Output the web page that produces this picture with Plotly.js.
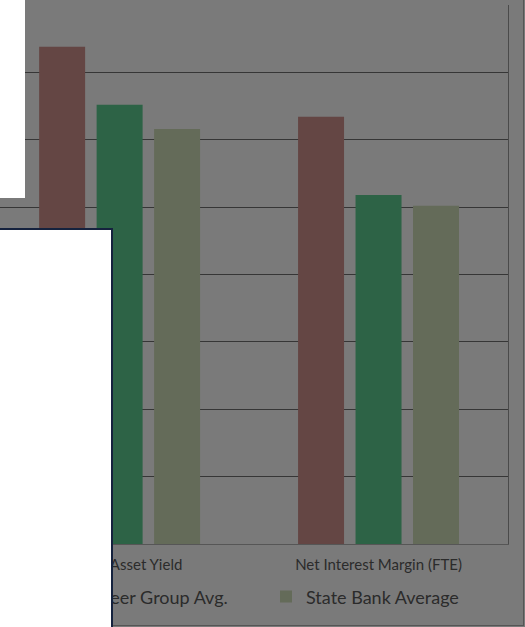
<!DOCTYPE html>
<html>
<head>
<meta charset="utf-8">
<script src="https://cdn.plot.ly/plotly-3.0.1.min.js"></script>
<style>
  html, body { margin: 0; padding: 0; background: #7a7a7a; overflow: hidden; }
  #chart {
    position: absolute; left: 0; top: 0;
    width: 523px; height: 625px;
    border-right: 1px solid #555555; border-bottom: 1px solid #555555;
  }
  .panel { position: absolute; background: #ffffff; }
  #panel-top { left: 0; top: 0; width: 25px; height: 198px; }
  #panel-bottom {
    left: 0; top: 228px; width: 111px; height: 420px;
    border-top: 2px solid #15223e; border-right: 2px solid #15223e;
  }
</style>
</head>
<body>
<div id="chart"></div>
<div class="panel" id="panel-top"></div>
<div class="panel" id="panel-bottom"></div>
<script>
// Yield and margin comparison, in percent
var categories = ["Earning Asset Yield", "Net Interest Margin (FTE)"];
var seriesNames = ["Bank", "Peer Group Avg.", "State Bank Average"];
var bankValues  = [3.69, 3.17];
var peerValues  = [3.26, 2.59];
var stateValues = [3.08, 2.51];

var colors = ["#644644", "#2d6346", "#646b59"];
var legendWidths = [15, 161, 160];
var allValues = [bankValues, peerValues, stateValues];

var traces = allValues.map(function (vals, i) {
  return {
    type: "bar",
    name: seriesNames[i],
    x: categories,
    y: vals,
    marker: { color: colors[i], line: { width: 0 } },
    legendwidth: legendWidths[i],
    hoverinfo: "skip"
  };
});

var textColor = "#2b2b2b";

var layout = {
  width: 523,
  height: 625,
  margin: { l: 0, r: 15, t: 5, b: 81, pad: 0 },
  paper_bgcolor: "#7a7a7a",
  plot_bgcolor: "#7a7a7a",
  barmode: "group",
  bargap: 0.334,
  bargroupgap: 0.2,
  font: { family: "Lato, 'Open Sans', sans-serif", color: textColor },
  xaxis: {
    type: "category",
    range: [-0.462, 1.5],
    showgrid: false,
    zeroline: false,
    showline: true,
    linecolor: "#565656",
    linewidth: 1,
    ticks: "",
    ticklabelstandoff: 7,
    tickfont: { family: "Lato, sans-serif", size: 15, color: textColor },
    automargin: false,
    fixedrange: true
  },
  yaxis: {
    range: [0, 4],
    dtick: 0.5,
    showgrid: true,
    gridcolor: "#363636",
    gridwidth: 1,
    zeroline: false,
    showline: true,
    mirror: true,
    linecolor: "#4a4a4a",
    linewidth: 1,
    showticklabels: false,
    ticks: "",
    automargin: false,
    fixedrange: true
  },
  showlegend: true,
  legend: {
    orientation: "h",
    x: 0,
    xanchor: "left",
    y: -0.098,
    yanchor: "middle",
    bgcolor: "rgba(0,0,0,0)",
    borderwidth: 0,
    traceorder: "normal",
    font: { family: "Lato, sans-serif", size: 18, color: textColor }
  }
};

Plotly.newPlot("chart", traces, layout, { staticPlot: true, displayModeBar: false });
</script>
</body>
</html>
